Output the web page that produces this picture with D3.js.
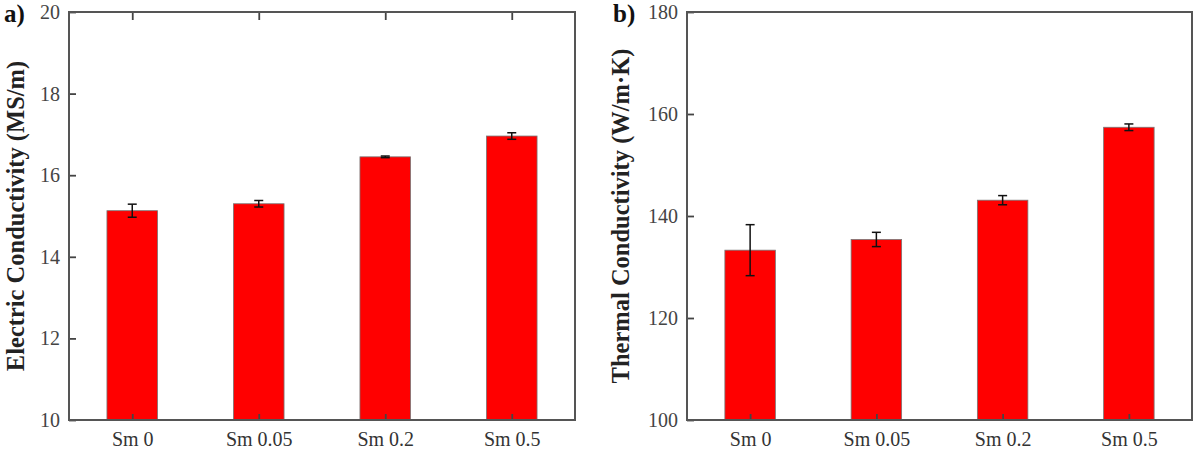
<!DOCTYPE html>
<html>
<head>
<meta charset="utf-8">
<script src="https://cdn.jsdelivr.net/npm/d3@7"></script>
<style>
  body { margin: 0; background: #fff; }
  svg { display: block; font-family: "Liberation Serif", "Times New Roman", serif; }
</style>
</head>
<body>
<svg id="chart" width="1199" height="450"></svg>
<script>
// data ------------------------------------------------------------------------
const samples = ['Sm 0', 'Sm 0.05', 'Sm 0.2', 'Sm 0.5'];
const elecValues = [15.13, 15.30, 16.45, 16.96];
const elecErrors = [0.16, 0.08, 0.02, 0.08];
const thermValues = [133.3, 135.4, 143.1, 157.4];
const thermErrors = [5.0, 1.4, 0.9, 0.65];
const elecTicks = [10, 12, 14, 16, 18, 20];
const thermTicks = [100, 120, 140, 160, 180];

const svg = d3.select('#chart');
const plotTop = 12, plotBottom = 420;

// one panel ------------------------------------------------------------------
const drawPanel = (opt) => {
  const g = svg.append('g');
  const x = d3.scaleBand().domain(samples).range([opt.left, opt.right]).paddingInner(0.6).paddingOuter(0.3);
  const xc = d3.scalePoint().domain(samples).range([opt.left, opt.right]).padding(0.5);
  const y = d3.scaleLinear().domain(opt.domain).range([plotBottom, plotTop]);

  // bars
  g.selectAll('.bar')
    .data(opt.values)
    .enter()
    .append('rect')
    .attr('x', (d, i) => xc(samples[i]) - x.bandwidth() / 2)
    .attr('width', x.bandwidth())
    .attr('y', d => y(d))
    .attr('height', d => y(opt.domain[0]) - y(d))
    .attr('fill', '#ff0000')
    .attr('stroke', '#777')
    .attr('stroke-width', 0.8);

  // error bars
  const eb = g.selectAll('.err')
    .data(opt.values)
    .enter()
    .append('g')
    .attr('stroke', '#111')
    .attr('stroke-width', 1.5);
  eb.append('line')
    .attr('x1', (d, i) => xc(samples[i])).attr('x2', (d, i) => xc(samples[i]))
    .attr('y1', (d, i) => y(d + opt.errors[i])).attr('y2', (d, i) => y(d - opt.errors[i]));
  [1, -1].forEach(s => {
    eb.append('line')
      .attr('x1', (d, i) => xc(samples[i]) - 4.5).attr('x2', (d, i) => xc(samples[i]) + 4.5)
      .attr('y1', (d, i) => y(d + s * opt.errors[i])).attr('y2', (d, i) => y(d + s * opt.errors[i]));
  });

  // axes
  const yAxis = g.append('g')
    .attr('transform', 'translate(' + opt.left + ',0)')
    .call(d3.axisLeft(y).tickValues(opt.ticks).tickSizeInner(-7).tickSizeOuter(0).tickPadding(9));
  const xAxis = g.append('g')
    .attr('transform', 'translate(0,' + plotBottom + ')')
    .call(d3.axisBottom(xc).tickSizeInner(-6).tickSizeOuter(0).tickPadding(12));
  if (opt.topTicks) {
    g.append('g')
      .attr('transform', 'translate(0,' + plotTop + ')')
      .call(d3.axisTop(xc).tickSizeInner(-8).tickSizeOuter(0).tickFormat(''));
  }
  g.selectAll('.domain').remove();
  g.selectAll('.tick line').attr('stroke', '#444').attr('stroke-width', 1.8);
  yAxis.selectAll('text').attr('font-size', '20px').attr('fill', '#444').attr('font-family', 'Liberation Serif');
  xAxis.selectAll('text').attr('font-size', '20px').attr('fill', '#333').attr('font-family', 'Liberation Serif');

  // frame
  g.append('rect')
    .attr('x', opt.left).attr('y', plotTop)
    .attr('width', opt.right - opt.left).attr('height', plotBottom - plotTop)
    .attr('fill', 'none')
    .attr('stroke', '#555')
    .attr('stroke-width', 2);

  // axis title
  g.append('text')
    .attr('transform', 'translate(' + opt.titleX + ',' + ((plotTop + plotBottom) / 2) + ') rotate(-90)')
    .attr('text-anchor', 'middle')
    .attr('font-weight', 'bold')
    .attr('font-size', '24.5px')
    .attr('fill', '#222')
    .text(opt.title);

  // panel letter
  g.append('text')
    .attr('x', opt.letterX).attr('y', 22)
    .attr('font-weight', 'bold')
    .attr('font-size', '25px')
    .attr('fill', '#111')
    .text(opt.letter);
};

drawPanel({
  left: 69, right: 575, domain: [10, 20], ticks: elecTicks,
  values: elecValues, errors: elecErrors, topTicks: true,
  title: 'Electric Conductivity (MS/m)', titleX: 24, letter: 'a)', letterX: 4
});
drawPanel({
  left: 687, right: 1192, domain: [100, 180], ticks: thermTicks,
  values: thermValues, errors: thermErrors, topTicks: false,
  title: 'Thermal Conductivity (W/m·K)', titleX: 629, letter: 'b)', letterX: 613
});
</script>
</body>
</html>
